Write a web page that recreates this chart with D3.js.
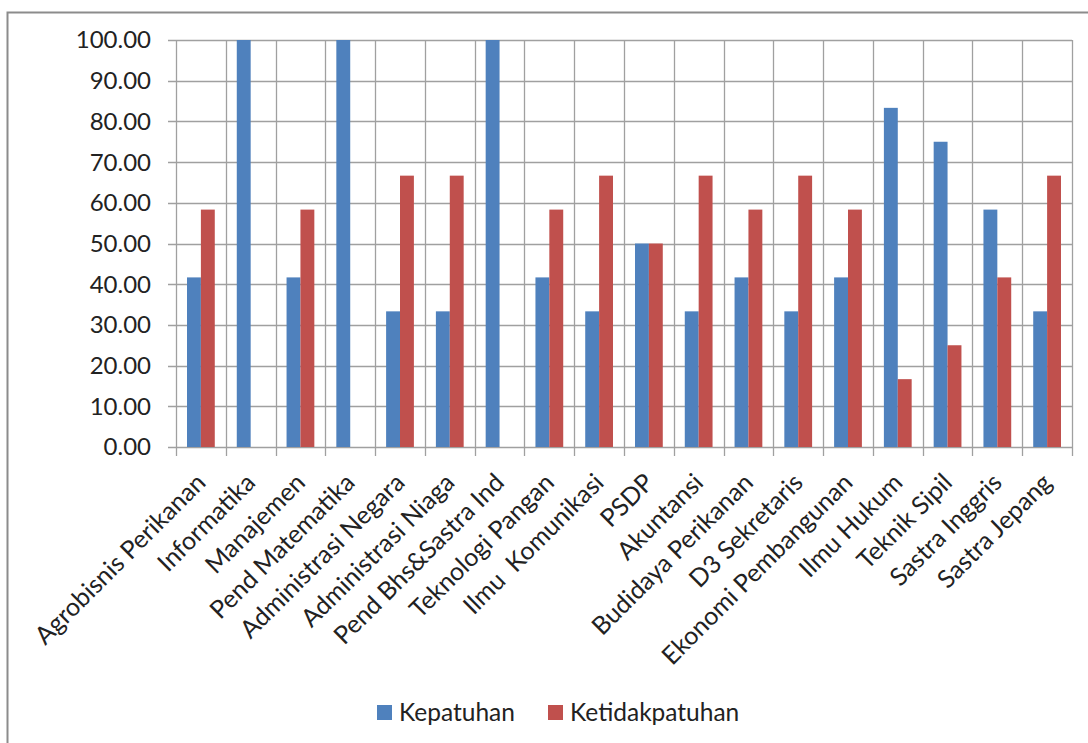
<!DOCTYPE html>
<html>
<head>
<meta charset="utf-8">
<script src="https://cdn.jsdelivr.net/npm/d3@7"></script>
<style>
  body { margin: 0; background: #fff; }
  text { font-family: Lato, "Open Sans", sans-serif; fill: #222; white-space: pre; }
</style>
</head>
<body>
<div id="contents"></div>
<script>
var categories = ["Agrobisnis Perikanan", "Informatika", "Manajemen", "Pend Matematika",
  "Administrasi Negara", "Administrasi Niaga", "Pend Bhs&Sastra Ind", "Teknologi Pangan",
  "Ilmu  Komunikasi", "PSDP", "Akuntansi", "Budidaya Perikanan", "D3 Sekretaris",
  "Ekonomi Pembangunan", "Ilmu Hukum", "Teknik Sipil", "Sastra Inggris", "Sastra Jepang"];
var kepatuhan = [41.67, 100, 41.67, 100, 33.33, 33.33, 100, 41.67, 33.33, 50,
  33.33, 41.67, 33.33, 41.67, 83.33, 75, 58.33, 33.33];
var ketidakpatuhan = [58.33, 0, 58.33, 0, 66.67, 66.67, 0, 58.33, 66.67, 50,
  66.67, 58.33, 66.67, 58.33, 16.67, 25, 41.67, 66.67];
var seriesNames = ["Kepatuhan", "Ketidakpatuhan"];
var seriesColors = ["#4F81BD", "#C0504D"];
var yTicks = [0, 10, 20, 30, 40, 50, 60, 70, 80, 90, 100];

var width = 1088, height = 743;
var plotLeft = 176, plotRight = 1072, plotTop = 40, plotBottom = 447;

var svg = d3.select("#contents").append("svg")
  .attr("width", width).attr("height", height);

// outer frame (only left and top edges are visible in the crop)
svg.append("rect")
  .attr("x", 7.5).attr("y", 12.5)
  .attr("width", 1200).attr("height", 800)
  .attr("fill", "none").attr("stroke", "#8c8c8c").attr("stroke-width", 2);

var x = d3.scaleBand().domain(categories).range([plotLeft, plotRight]).padding(0);
var xs = d3.scaleBand().domain(seriesNames).range([11, x.bandwidth() - 11]).padding(0);
var y = d3.scaleLinear().domain([0, 100]).range([plotBottom, plotTop]);

var gridColor = "#a0a0a0";

// horizontal gridlines
svg.append("g").selectAll("line").data(yTicks).enter().append("line")
  .attr("x1", plotLeft - 8).attr("x2", plotRight)
  .attr("y1", function(d){ return Math.round(y(d)) + 0.5; })
  .attr("y2", function(d){ return Math.round(y(d)) + 0.5; })
  .attr("stroke", gridColor).attr("stroke-width", 1.3);

// vertical gridlines + tick marks at category boundaries
var bounds = categories.map(function(c){ return x(c); }).concat([plotRight]);
svg.append("g").selectAll("line").data(bounds).enter().append("line")
  .attr("x1", function(d){ return Math.round(d) + 0.5; })
  .attr("x2", function(d){ return Math.round(d) + 0.5; })
  .attr("y1", plotTop).attr("y2", plotBottom + 9)
  .attr("stroke", gridColor).attr("stroke-width", 1.3);

// bars
var cat = svg.append("g").selectAll("g").data(categories).enter().append("g")
  .attr("transform", function(d){ return "translate(" + x(d) + ",0)"; });

cat.selectAll("rect")
  .data(function(d, i){ return [
    { s: seriesNames[0], v: kepatuhan[i], c: seriesColors[0] },
    { s: seriesNames[1], v: ketidakpatuhan[i], c: seriesColors[1] }]; })
  .enter().append("rect")
  .attr("x", function(d){ return xs(d.s); })
  .attr("width", xs.bandwidth())
  .attr("y", function(d){ return y(d.v); })
  .attr("height", function(d){ return y(0) - y(d.v); })
  .attr("fill", function(d){ return d.c; });

// y axis labels
svg.append("g").selectAll("text").data(yTicks).enter().append("text")
  .attr("x", 151)
  .attr("y", function(d){ return y(d); })
  .attr("dy", "0.35em")
  .attr("text-anchor", "end")
  .style("font-size", "24px")
  .text(function(d){ return d3.format(".2f")(d); });

// x axis labels, rotated
svg.append("g").selectAll("text").data(categories).enter().append("text")
  .attr("transform", function(d){
    return "translate(" + (x(d) + x.bandwidth() / 2) + "," + (plotBottom + 31) + ") rotate(-45)";
  })
  .attr("text-anchor", "end")
  .attr("dy", "0.35em")
  .style("font-size", "25px")
  .text(function(d){ return d; });

// legend
var legend = svg.append("g");
var legendX = [377, 548];
seriesNames.forEach(function(name, i){
  legend.append("rect")
    .attr("x", legendX[i]).attr("y", 705)
    .attr("width", 15).attr("height", 15)
    .attr("fill", seriesColors[i]);
  legend.append("text")
    .attr("x", legendX[i] + 22).attr("y", 712)
    .attr("dy", "0.35em")
    .style("font-size", "24.5px")
    .text(name);
});
</script>
</body>
</html>
